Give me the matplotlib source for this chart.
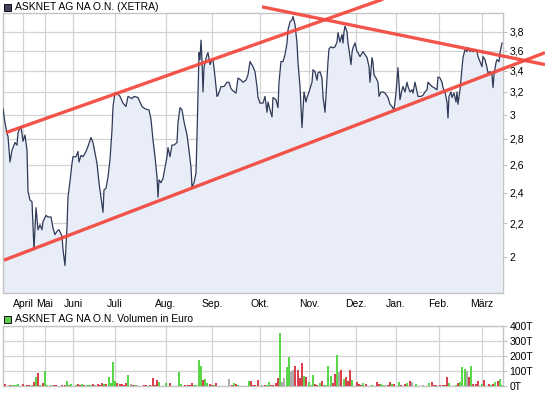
import numpy as np
import matplotlib.pyplot as plt
from matplotlib.patches import Rectangle
from matplotlib.ticker import FixedLocator, NullLocator

plt.rcParams['font.family'] = ['Liberation Sans', 'DejaVu Sans']

# price series (chart position of the session, closing price in EUR)
pos = [3, 5, 7, 8, 10, 12, 15, 17, 18, 21, 23, 25, 27, 28, 30, 32, 33, 34, 36, 38,
       40, 42, 43, 46, 48, 51, 53, 55, 57, 59, 62, 63, 65, 67, 68, 70, 72, 73, 76, 78,
       79, 81, 83, 86, 88, 91, 93, 95, 97, 99, 101, 103, 104, 106, 108, 110, 112, 113, 115, 117,
       120, 123, 126, 128, 132, 134, 138, 142, 145, 149, 151, 153, 155, 157, 158, 159, 161, 163, 165, 167,
       168, 170, 172, 174, 177, 178, 180, 182, 184, 187, 189, 191, 192, 194, 196, 197, 198, 199, 200, 201,
       202, 203, 204, 205, 207, 208, 210, 212, 213, 215, 217, 218, 221, 224, 227, 229, 231, 233, 236, 238,
       241, 243, 246, 248, 250, 253, 255, 257, 258, 260, 263, 265, 267, 268, 270, 272, 273, 276, 278, 279,
       281, 283, 285, 287, 288, 290, 292, 293, 295, 297, 298, 300, 301, 302, 304, 306, 307, 309, 312, 313,
       315, 317, 318, 320, 322, 323, 325, 326, 328, 329, 331, 333, 335, 337, 338, 340, 342, 343, 344, 345,
       347, 348, 349, 351, 352, 353, 355, 357, 358, 360, 363, 365, 367, 369, 370, 372, 373, 374, 376, 378,
       379, 381, 383, 385, 388, 390, 392, 394, 396, 397, 398, 400, 402, 403, 405, 407, 408, 410, 412, 413,
       415, 417, 418, 421, 423, 425, 427, 428, 430, 432, 434, 437, 438, 440, 442, 443, 445, 447, 448, 449,
       451, 452, 454, 456, 457, 458, 460, 462, 463, 465, 467, 468, 470, 472, 473, 475, 477, 478, 480, 482,
       483, 485, 487, 488, 490, 492, 493, 494, 496, 497, 499, 500, 502]
price = [3.05, 2.93, 2.84, 2.82, 2.62, 2.71, 2.77, 2.75, 2.85, 2.90, 2.78, 2.83, 2.71, 2.41, 2.35, 2.34, 2.18, 2.04, 2.30, 2.16,
         2.19, 2.16, 2.21, 2.25, 2.24, 2.24, 2.17, 2.13, 2.15, 2.16, 2.12, 2.04, 1.95, 2.18, 2.37, 2.48, 2.61, 2.66, 2.66, 2.70,
         2.62, 2.67, 2.66, 2.70, 2.74, 2.81, 2.77, 2.69, 2.61, 2.47, 2.37, 2.27, 2.42, 2.43, 2.51, 2.64, 2.87, 3.07, 3.19, 3.19,
         3.16, 3.10, 3.07, 3.16, 3.14, 3.16, 3.15, 3.07, 3.05, 3.04, 2.96, 2.79, 2.66, 2.51, 2.37, 2.49, 2.47, 2.50, 2.58, 2.66,
         2.73, 2.66, 2.75, 2.75, 2.77, 2.93, 3.06, 3.04, 2.94, 2.83, 2.71, 2.58, 2.44, 2.47, 2.54, 2.82, 3.19, 3.58, 3.51, 3.71,
         3.51, 3.20, 3.43, 3.48, 3.56, 3.58, 3.46, 3.51, 3.51, 3.34, 3.16, 3.17, 3.25, 3.25, 3.29, 3.29, 3.23, 3.21, 3.19, 3.33,
         3.31, 3.29, 3.31, 3.36, 3.49, 3.44, 3.39, 3.25, 3.15, 3.10, 3.10, 3.16, 3.02, 3.11, 3.04, 2.98, 3.15, 3.13, 3.06, 3.29,
         3.49, 3.49, 3.56, 3.68, 3.82, 3.91, 3.93, 3.97, 3.88, 3.68, 3.48, 3.25, 3.07, 2.89, 3.20, 3.11, 3.15, 3.20, 3.29, 3.41,
         3.39, 3.31, 3.38, 3.39, 3.33, 3.16, 3.02, 3.17, 3.49, 3.62, 3.64, 3.63, 3.64, 3.69, 3.79, 3.69, 3.77, 3.68, 3.80, 3.86,
         3.80, 3.68, 3.61, 3.46, 3.58, 3.63, 3.68, 3.59, 3.58, 3.54, 3.59, 3.56, 3.53, 3.44, 3.29, 3.53, 3.48, 3.36, 3.33, 3.29,
         3.16, 3.20, 3.20, 3.19, 3.15, 3.09, 3.07, 3.04, 3.19, 3.31, 3.43, 3.13, 3.22, 3.25, 3.20, 3.29, 3.25, 3.20, 3.22, 3.19,
         3.29, 3.20, 3.16, 3.16, 3.17, 3.20, 3.22, 3.29, 3.27, 3.25, 3.24, 3.22, 3.34, 3.33, 3.29, 3.24, 3.20, 3.11, 2.97, 3.16,
         3.20, 3.15, 3.19, 3.11, 3.20, 3.09, 3.22, 3.43, 3.53, 3.61, 3.59, 3.63, 3.59, 3.61, 3.59, 3.61, 3.59, 3.54, 3.49, 3.44,
         3.54, 3.51, 3.43, 3.38, 3.39, 3.36, 3.24, 3.36, 3.48, 3.51, 3.49, 3.58, 3.68]

# trend lines (start / end)
upper_x = [6, 383]
upper_y = [2.85, 4.17]
lower_x = [4, 545]
lower_y = [1.98, 3.58]
down_x = [262, 545]
down_y = [4.08, 3.46]

# volume in thousand EUR, colour: g = up, r = down, n = unchanged
vol_pos = [5, 10, 12, 14, 15, 17, 18, 23, 27, 29, 32, 34, 36, 38, 40, 43, 45, 47, 51, 54,
           56, 62, 65, 67, 69, 71, 76, 78, 80, 82, 84, 87, 89, 91, 93, 95, 98, 100, 102, 104,
           106, 109, 111, 113, 115, 117, 120, 122, 124, 126, 128, 131, 133, 135, 137, 144, 146, 150, 153, 155,
           157, 159, 166, 170, 179, 181, 185, 188, 190, 192, 194, 196, 199, 201, 203, 205, 207, 210, 212, 214,
           216, 229, 232, 234, 236, 238, 249, 251, 253, 255, 258, 262, 265, 267, 269, 271, 273, 276, 278, 280,
           282, 284, 287, 289, 291, 293, 295, 298, 300, 302, 304, 306, 309, 311, 313, 315, 317, 320, 322, 324,
           326, 328, 331, 333, 335, 337, 339, 341, 344, 346, 348, 350, 352, 357, 359, 361, 363, 366, 372, 377,
           379, 381, 383, 385, 388, 390, 392, 394, 399, 401, 405, 407, 410, 412, 416, 423, 429, 432, 434, 436,
           440, 443, 445, 447, 449, 456, 458, 460, 462, 465, 467, 469, 471, 473, 476, 478, 482, 484, 489, 491,
           493, 495, 498, 500, 502]
vol = [13, 7, 7, 7, 7, 7, 13, 13, 7, 7, 7, 27, 60, 87, 7, 20, 100, 7, 7, 7,
       7, 7, 7, 33, 7, 13, 7, 13, 7, 13, 7, 7, 7, 7, 13, 7, 13, 7, 20, 13,
       13, 60, 20, 160, 33, 20, 13, 13, 7, 20, 73, 13, 7, 7, 7, 7, 7, 7, 53, 7,
       40, 27, 20, 20, 93, 13, 7, 7, 7, 20, 7, 7, 173, 133, 40, 47, 20, 13, 7, 7,
       20, 47, 7, 20, 13, 7, 33, 33, 7, 7, 40, 7, 7, 7, 27, 7, 7, 20, 53, 353,
       27, 53, 127, 193, 100, 107, 133, 107, 53, 153, 67, 60, 27, 7, 73, 13, 7, 20, 33, 7,
       7, 133, 67, 20, 80, 207, 93, 107, 47, 60, 33, 107, 40, 27, 13, 7, 20, 13, 7, 27,
       13, 13, 7, 7, 7, 27, 13, 13, 27, 7, 13, 20, 33, 27, 13, 7, 20, 27, 7, 7,
       7, 7, 7, 60, 20, 7, 20, 27, 127, 113, 100, 60, 133, 13, 13, 33, 13, 40, 13, 7,
       13, 27, 33, 47, 7]
vol_dir = ('rrgggggrrrnrgrgrgggr'
           'rrrggggrrgrgggrnrrrg'
           'rggggrrrrrgnrgnrrrrr'
           'rggrggrrrrggggrggrrg'
           'rnrgrggrrrrnrggrrrrg'
           'nnggnnrrrrgrgggrrgrg'
           'gggrrgnrgrrrgrrrgrgr'
           'rggnrrgrgrrgrngngrrr'
           'rrrrggrgggnrgrrrgrrg'
           'rgrgg')

months = ['April', 'Mai', 'Juni', 'Juli', 'Aug.', 'Sep.', 'Okt.', 'Nov.', 'Dez.', 'Jan.', 'Feb.', 'März']
month_pos = [23, 45, 73, 115, 166, 212, 260, 309, 356, 396, 439, 482]
price_ticks = [2.0, 2.2, 2.4, 2.6, 2.8, 3.0, 3.2, 3.4, 3.6, 3.8]
price_labels = ['2', '2,2', '2,4', '2,6', '2,8', '3', '3,2', '3,4', '3,6', '3,8']
vol_ticks = [0, 100, 200, 300, 400]
vol_labels = ['0T', '100T', '200T', '300T', '400T']

W, H = 545, 395
fig = plt.figure(figsize=(W / 100, H / 100), dpi=100)
grid_c = '#d4d4d4'
spine_c = '#c4c4c4'


def px_axes(x0, y0, x1, y1):
    return fig.add_axes([x0 / W, 1 - y1 / H, (x1 - x0) / W, (y1 - y0) / H])


def style(ax):
    for s in ax.spines.values():
        s.set_color(spine_c)
        s.set_linewidth(1.0)
    ax.grid(True, color=grid_c, linewidth=0.9)
    ax.set_axisbelow(True)
    ax.yaxis.tick_right()
    ax.tick_params(axis='y', length=3, width=0.8, color=spine_c, pad=1.5, labelsize=7.5)
    ax.tick_params(axis='x', length=0, pad=4, labelsize=7.5)
    ax.set_xlim(3, 503)
    ax.xaxis.set_major_locator(FixedLocator(month_pos))


# price panel
ax = px_axes(3, 13, 503, 293)
ymin, ymax = 1.803, 4.009
ax.set_yscale('log')
ax.fill_between(pos, price, ymin, color='#e8edf7', linewidth=0, zorder=1)
ax.plot(pos, price, color='#2f3a58', linewidth=0.9, zorder=3)
ax.set_ylim(ymin, ymax)
style(ax)
ax.set_xticklabels(months)
ax.yaxis.set_major_locator(FixedLocator(price_ticks))
ax.yaxis.set_minor_locator(NullLocator())
ax.set_yticklabels(price_labels)
for tx, ty in [(upper_x, upper_y), (lower_x, lower_y), (down_x, down_y)]:
    ax.plot(tx, ty, color='#f2463c', linewidth=2.4, alpha=0.92,
            solid_capstyle='butt', clip_on=False, zorder=5)

# volume panel
axv = px_axes(3, 326, 503, 386)
cmap = {'g': '#5ad64a', 'r': '#d9424c', 'n': '#adadad'}
axv.bar(vol_pos, vol, width=1.3, color=[cmap[c] for c in vol_dir], linewidth=0, zorder=3)
axv.set_ylim(0, 400)
style(axv)
axv.set_xticklabels([])
axv.set_yticks(vol_ticks)
axv.set_yticklabels(vol_labels)

# headers
fig.patches.append(Rectangle((3.5 / W, 1 - 11 / H), 7.5 / W, 7.5 / H, transform=fig.transFigure,
                             facecolor='#3c4664', edgecolor='#111111', linewidth=0.7))
fig.text(15 / W, 1 - 7.5 / H, 'ASKNET AG NA O.N. (XETRA)', fontsize=7.5, va='center', ha='left')
fig.patches.append(Rectangle((3.5 / W, 1 - 323 / H), 7.5 / W, 7.5 / H, transform=fig.transFigure,
                             facecolor='#5ccc4c', edgecolor='#111111', linewidth=0.7))
fig.text(15 / W, 1 - 319.5 / H, 'ASKNET AG NA O.N. Volumen in Euro', fontsize=7.5, va='center', ha='left')

fig.savefig('out.png', dpi=100)
